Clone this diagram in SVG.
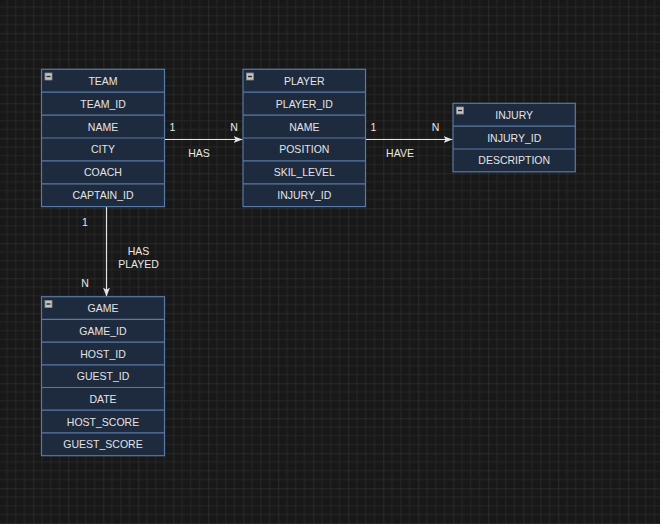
<svg xmlns="http://www.w3.org/2000/svg" width="660" height="524" viewBox="0 0 660 524">
  <style>
    .box { fill: #1e2a3e; stroke: #587aa6; stroke-width: 1.2; }
    .sep { stroke: #587aa6; stroke-width: 1.2; }
    .t { font-family: "Liberation Sans", Arial, sans-serif; font-size: 10.5px; fill: #e4e4e4; text-anchor: middle; dominant-baseline: central; }
    .lbl { font-family: "Liberation Sans", Arial, sans-serif; font-size: 10.5px; fill: #e8e8e8; text-anchor: middle; dominant-baseline: central; }
    .edge { stroke: #e6e6e6; stroke-width: 1.2; fill: none; }
    .icon { fill: #c4c4c4; stroke: #8a8a8a; stroke-width: 0.8; }
    .iconbar { stroke: #2a2a2a; stroke-width: 1.4; }
  </style>
  <defs>
    <pattern id="grid" x="-1.7" y="-1.7" width="35" height="35" patternUnits="userSpaceOnUse">
      <path d="M8.75 0V35M17.5 0V35M26.25 0V35M0 8.75H35M0 17.5H35M0 26.25H35" stroke="#262626" stroke-width="1"/>
      <path d="M0 0V35M0 0H35" stroke="#3a3a3a" stroke-width="1"/>
    </pattern>
    <marker id="arrow" markerUnits="userSpaceOnUse" markerWidth="10" markerHeight="8" refX="9" refY="4" orient="auto">
      <path d="M0 0.5 L9 4 L0 7.5 L2.2 4 Z" fill="#e6e6e6"/>
    </marker>
  </defs>

  <!-- canvas background with grid -->
  <rect width="660" height="524" fill="#181818"/>
  <rect width="660" height="524" fill="url(#grid)"/>

  <!-- connectors -->
  <g id="connectors">
    <path class="edge" d="M164.5 139.5 H242.5" marker-end="url(#arrow)"/>
    <text class="lbl" x="172.5" y="126.5">1</text>
    <text class="lbl" x="234" y="126.5">N</text>
    <text class="lbl" x="199" y="152.5">HAS</text>

    <path class="edge" d="M365.5 139.5 H452.5" marker-end="url(#arrow)"/>
    <text class="lbl" x="373.5" y="126.5">1</text>
    <text class="lbl" x="435.5" y="126.5">N</text>
    <text class="lbl" x="400" y="152.5">HAVE</text>

    <path class="edge" d="M106.5 206.5 V296.5" marker-end="url(#arrow)"/>
    <text class="lbl" x="85" y="221.5">1</text>
    <text class="lbl" x="85" y="282.5">N</text>
    <text class="lbl" x="138.5" y="251">HAS</text>
    <text class="lbl" x="138.5" y="264">PLAYED</text>
  </g>

  <!-- TEAM -->
  <g id="team">
    <rect class="box" x="41.5" y="69.3" width="123" height="137.3"/>
    <path class="sep" d="M41.5 92.2H164.5M41.5 115.1H164.5M41.5 138H164.5M41.5 160.9H164.5M41.5 183.8H164.5"/>
    <rect class="icon" x="45" y="73" width="7" height="7"/>
    <path class="iconbar" d="M46.5 76.5H50.5"/>
    <text class="t" x="103" y="80.7">TEAM</text>
    <text class="t" x="103" y="103.6">TEAM_ID</text>
    <text class="t" x="103" y="126.5">NAME</text>
    <text class="t" x="103" y="149.4">CITY</text>
    <text class="t" x="103" y="172.3">COACH</text>
    <text class="t" x="103" y="195.2">CAPTAIN_ID</text>
  </g>

  <!-- PLAYER -->
  <g id="player">
    <rect class="box" x="243" y="69.3" width="122.5" height="137.3"/>
    <path class="sep" d="M243 92.2H365.5M243 115.1H365.5M243 138H365.5M243 160.9H365.5M243 183.8H365.5"/>
    <rect class="icon" x="246.5" y="73" width="7" height="7"/>
    <path class="iconbar" d="M248 76.5H252"/>
    <text class="t" x="304.3" y="80.7">PLAYER</text>
    <text class="t" x="304.3" y="103.6">PLAYER_ID</text>
    <text class="t" x="304.3" y="126.5">NAME</text>
    <text class="t" x="304.3" y="149.4">POSITION</text>
    <text class="t" x="304.3" y="172.3">SKIL_LEVEL</text>
    <text class="t" x="304.3" y="195.2">INJURY_ID</text>
  </g>

  <!-- INJURY -->
  <g id="injury">
    <rect class="box" x="453" y="103.3" width="122.3" height="68.5"/>
    <path class="sep" d="M453 126.2H575.3M453 149H575.3"/>
    <rect class="icon" x="456.5" y="107" width="7" height="7"/>
    <path class="iconbar" d="M458 110.5H462"/>
    <text class="t" x="514.2" y="114.7">INJURY</text>
    <text class="t" x="514.2" y="137.6">INJURY_ID</text>
    <text class="t" x="514.2" y="160.4">DESCRIPTION</text>
  </g>

  <!-- GAME -->
  <g id="game">
    <rect class="box" x="41.5" y="296.7" width="123" height="159"/>
    <path class="sep" d="M41.5 319.4H164.5M41.5 342.1H164.5M41.5 364.8H164.5M41.5 387.5H164.5M41.5 410.2H164.5M41.5 432.9H164.5"/>
    <rect class="icon" x="45" y="300.5" width="7" height="7"/>
    <path class="iconbar" d="M46.5 304H50.5"/>
    <text class="t" x="103" y="308">GAME</text>
    <text class="t" x="103" y="330.8">GAME_ID</text>
    <text class="t" x="103" y="353.5">HOST_ID</text>
    <text class="t" x="103" y="376.2">GUEST_ID</text>
    <text class="t" x="103" y="398.9">DATE</text>
    <text class="t" x="103" y="421.6">HOST_SCORE</text>
    <text class="t" x="103" y="444.3">GUEST_SCORE</text>
  </g>
</svg>
